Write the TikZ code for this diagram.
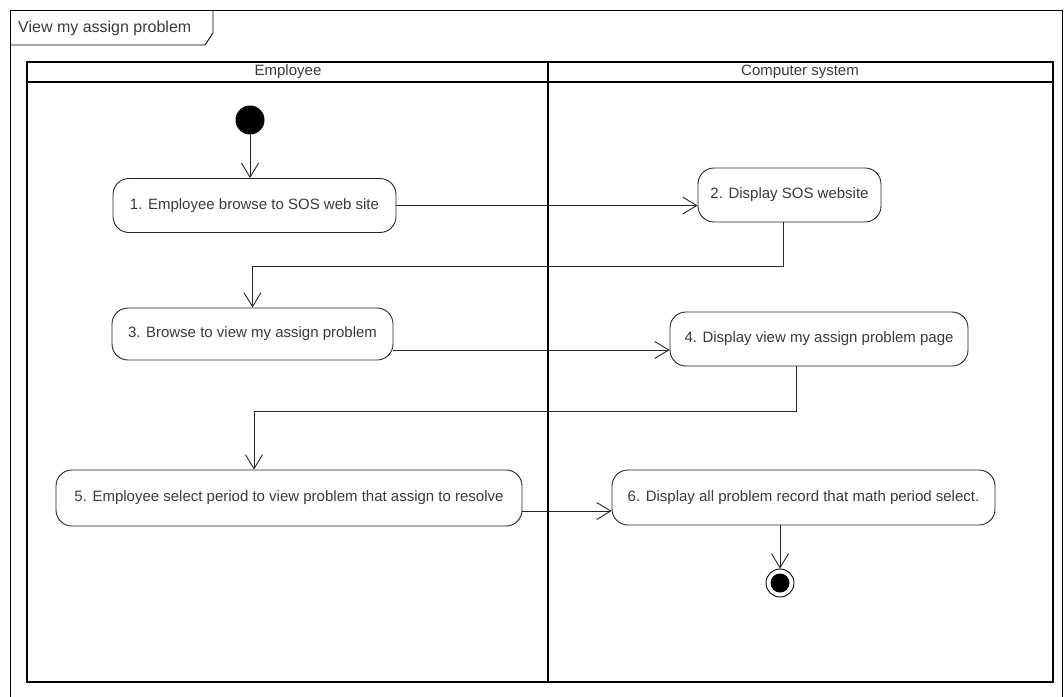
\documentclass[tikz,border=0pt]{standalone}
\usepackage{fontspec}
\setmainfont{Liberation Sans}
\usetikzlibrary{arrows.meta,calc}
\definecolor{txt}{HTML}{3A3A3A}
\tikzset{
  act/.style={draw=black!85, line width=0.9pt, rounded corners=16pt, minimum height=54pt,
    inner sep=0pt, text=txt, font=\fontsize{15}{18}\selectfont},
  flow/.style={draw=black!85, line width=0.9pt, -{Straight Barb[length=14pt,width=17pt,line width=0.9pt]}},
  lane/.style={draw=black, line width=2.4pt},
  hdr/.style={text=txt, font=\fontsize{15}{18}\selectfont, inner sep=0pt},
}
\begin{document}
\begin{tikzpicture}[x=1pt,y=-1pt]
\useasboundingbox (0,0) rectangle (1064,696);
% diagram frame and its name tab
\draw[line width=0.9pt] (10,700) -- (10,10) -- (1062,10) -- (1062,700);
\draw[line width=0.9pt] (10,45) -- (205,45) -- (213,33) -- (213,10);
\node[hdr, anchor=west, font=\fontsize{16}{19}\selectfont] (title) at (18,28) {View my assign problem};
% swimlanes
\draw[lane] (27,62) rectangle (1053,682);
\draw[lane] (27,82) -- (1053,82);
\draw[lane] (548,62) -- (548,682);
\node[hdr] (laneA) at (288,72) {Employee};
\node[hdr] (laneB) at (800,72) {Computer system};
% initial and final nodes
\node[circle, fill=black, minimum size=29pt, inner sep=0pt] (init) at (250,120) {};
\node[circle, draw=black, line width=0.9pt, minimum size=28pt, inner sep=0pt] (fin) at (780,583) {};
\node[circle, fill=black, minimum size=19pt, inner sep=0pt] (finc) at (fin) {};
% activities
\node[act, minimum width=283pt] (n1) at (254.5,205.5) {1. Employee browse to SOS web site};
\node[act, minimum width=183pt] (n2) at (789.5,195) {2. Display SOS website};
\node[act, minimum width=281pt, minimum height=52pt] (n3) at (252.5,334) {3. Browse to view my assign problem};
\node[act, minimum width=298pt] (n4) at (819,339) {4. Display view my assign problem page};
\node[act, minimum width=466pt, minimum height=56pt] (n5) at (289,498) {5. Employee select period to view problem that assign to resolve};
\node[act, minimum width=383pt, minimum height=55pt] (n6) at (803.5,497.5) {6. Display all problem record that math period select.};
% routing points
\coordinate (b2) at (783,266);
\coordinate (a34) at (0,350);
\coordinate (b4) at (796,411);
\coordinate (c5) at (254,0);
\coordinate (a56) at (0,511);
% control flows
\draw[flow] (init.south) -- (init.south |- n1.north);
\draw[flow] (n1.east) -- (n1.east -| n2.west);
\draw[flow] (n2.south -| b2) -- (b2) -| (n3.north);
\draw[flow] (n3.east |- a34) -- (n4.west |- a34);
\draw[flow] (n4.south -| b4) -- (b4) -| (n5.north -| c5);
\draw[flow] (n5.east |- a56) -- (n6.west |- a56);
\draw[flow] (n6.south -| fin) -- (fin.north);
\end{tikzpicture}
\end{document}
